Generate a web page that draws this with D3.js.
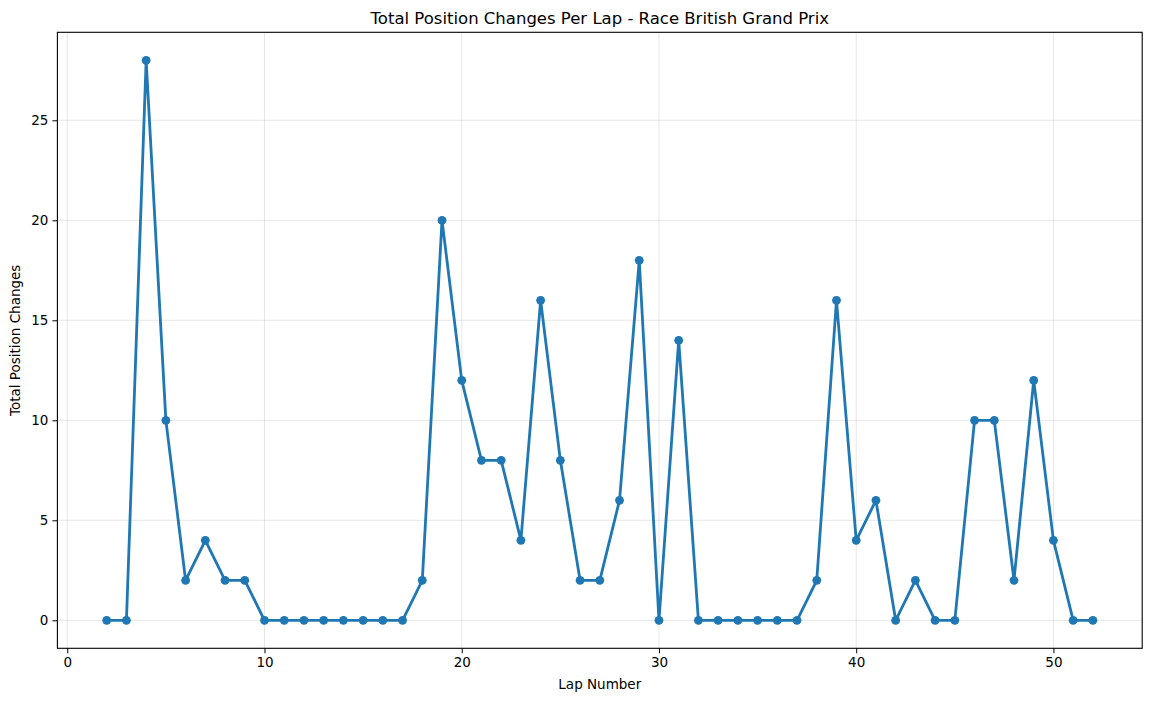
<!DOCTYPE html>
<html>
<head>
<meta charset="utf-8">
<script src="https://cdn.jsdelivr.net/npm/d3@7"></script>
<style>
  body { margin: 0; background: #fff; }
  svg { font-family: "DejaVu Sans", sans-serif; }
</style>
</head>
<body>
<div id="chart"></div>
<script>
// lap numbers and total position changes
var laps = [2, 3, 4, 5, 6, 7, 8, 9, 10, 11, 12, 13, 14, 15, 16, 17, 18, 19, 20, 21,
    22, 23, 24, 25, 26, 27, 28, 29, 30, 31, 32, 33, 34, 35, 36, 37, 38, 39, 40, 41,
    42, 43, 44, 45, 46, 47, 48, 49, 50, 51, 52];
var changes = [0, 0, 28, 10, 2, 4, 2, 2, 0, 0, 0, 0, 0, 0, 0, 0, 2, 20, 12, 8,
    8, 4, 16, 8, 2, 2, 6, 18, 0, 14, 0, 0, 0, 0, 0, 0, 2, 16, 4, 6,
    0, 2, 0, 0, 10, 10, 2, 12, 4, 0, 0];
var xTicks = [0, 10, 20, 30, 40, 50];
var yTicks = [0, 5, 10, 15, 20, 25];

var svgWidth = 1151, svgHeight = 701;
var margin = {left: 57.4, top: 32.3, right: 1151 - 1142.2, bottom: 701 - 648.3};
var width = svgWidth - margin.left - margin.right,
    height = svgHeight - margin.top - margin.bottom;

var svg = d3.select("#chart").append("svg")
    .attr("width", svgWidth)
    .attr("height", svgHeight);

// matplotlib style 5% margins around the data
var x = d3.scaleLinear().domain([-0.5, 54.5]).range([0, width]);
var y = d3.scaleLinear().domain([-1.4, 29.4]).range([height, 0]);

var points = laps.map(function(l, i) { return {lap: l, value: changes[i]}; });

var g = svg.append("g")
    .attr("transform", "translate(" + margin.left + "," + margin.top + ")");

// grid
g.append("g").selectAll("line").data(xTicks).enter().append("line")
    .attr("x1", function(d) { return x(d); })
    .attr("x2", function(d) { return x(d); })
    .attr("y1", 0).attr("y2", height)
    .attr("stroke", "#b0b0b0").attr("stroke-opacity", 0.3).attr("stroke-width", 1);
g.append("g").selectAll("line").data(yTicks).enter().append("line")
    .attr("y1", function(d) { return y(d); })
    .attr("y2", function(d) { return y(d); })
    .attr("x1", 0).attr("x2", width)
    .attr("stroke", "#b0b0b0").attr("stroke-opacity", 0.3).attr("stroke-width", 1);

// axes
var xAxis = g.append("g")
    .attr("transform", "translate(0," + height + ")")
    .call(d3.axisBottom(x).tickValues(xTicks).tickSize(5).tickPadding(4).tickSizeOuter(0));
var yAxis = g.append("g")
    .call(d3.axisLeft(y).tickValues(yTicks).tickSize(5).tickPadding(4).tickSizeOuter(0));
[xAxis, yAxis].forEach(function(a) {
    a.select(".domain").remove();
    a.selectAll("text").attr("font-size", 13.5).attr("fill", "#000")
        .attr("font-family", "DejaVu Sans");
    a.selectAll("line").attr("stroke", "#000").attr("stroke-width", 1);
});

// line + markers
var line = d3.line()
    .x(function(d) { return x(d.lap); })
    .y(function(d) { return y(d.value); });
g.append("path")
    .datum(points)
    .attr("fill", "none")
    .attr("stroke", "#1f77b4")
    .attr("stroke-width", 2.8)
    .attr("stroke-linejoin", "round")
    .attr("d", line);
g.selectAll(".dot").data(points).enter().append("circle")
    .attr("class", "dot")
    .attr("cx", function(d) { return x(d.lap); })
    .attr("cy", function(d) { return y(d.value); })
    .attr("r", 4.4)
    .attr("fill", "#1f77b4");

// frame
g.append("rect")
    .attr("width", width).attr("height", height)
    .attr("fill", "none").attr("stroke", "#000").attr("stroke-width", 1.1);

// texts
svg.append("text")
    .attr("x", margin.left + width / 2).attr("y", 23.5)
    .attr("text-anchor", "middle")
    .attr("font-size", 16.5)
    .text("Total Position Changes Per Lap - Race British Grand Prix");
svg.append("text")
    .attr("x", margin.left + width / 2).attr("y", 689)
    .attr("text-anchor", "middle")
    .attr("font-size", 13.5)
    .text("Lap Number");
svg.append("text")
    .attr("transform", "translate(20," + (margin.top + height / 2) + ") rotate(-90)")
    .attr("text-anchor", "middle")
    .attr("font-size", 13.5)
    .text("Total Position Changes");
</script>
</body>
</html>
